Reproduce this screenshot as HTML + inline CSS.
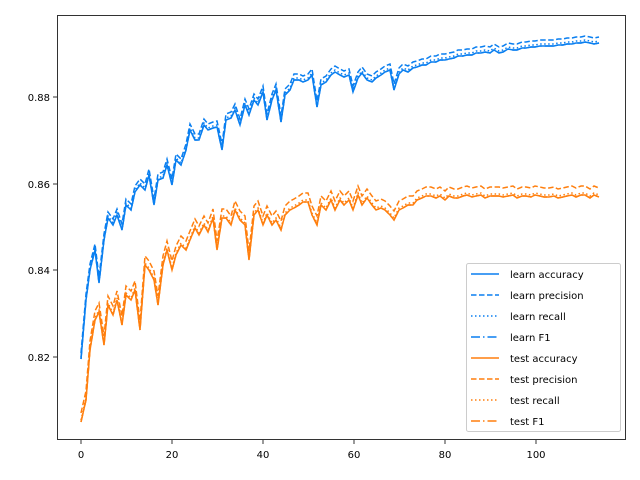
<!DOCTYPE html>
<html><head><style>body{margin:0;background:#fff}svg{display:block;font-family:"DejaVu Sans","Liberation Sans",sans-serif}</style></head><body>
<svg width="640" height="480" viewBox="0 0 640 480">
<defs>
<clipPath id="c"><rect x="57" y="15" width="569" height="425"/></clipPath>
<polyline id="b" fill="none" stroke-width="1.5" points="81,359 86,300 90,270 95,250 99,283 104,240 108,218 113,225 117,215 122,230 126,205 131,210 135,192 140,185 145,190 149,175 154,205 158,180 163,178 167,165 172,185 176,160 181,165 186,150 190,130 195,140 199,140 204,125 208,130 213,128 217,127 222,150 226,120 231,118 235,110 240,125 245,105 249,115 254,100 258,105 263,92 267,120 272,100 276,90 281,122 285,95 290,90 294,80 299,80 303,82 308,80 312,75 317,107 321,85 326,82 331,75 335,72 340,75 344,77 349,75 353,92 358,78 362,73 367,80 372,82 376,78 381,75 385,72 390,70 394,90 399,74 403,70 408,72 413,68 417,67 422,65 426,65 431,62 436,62 440,60 445,60 449,59 454,58 458,56 463,56 467,55 472,55 476,53 481,53 485,52 490,53 494,50 499,53 503,52 508,49 513,50 517,50 522,48 526,48 531,47 535,47 540,46 544,46 549,46 554,46 558,45 563,45 567,44 572,44 576,43 581,43 585,42 590,43 594,44 599,43"/>
<polyline id="o" fill="none" stroke-width="1.5" points="81,422 86,400 90,350 95,320 99,312 104,345 108,305 113,315 117,300 122,325 126,295 131,300 135,290 140,330 145,265 149,270 154,280 158,305 163,265 167,250 172,270 176,255 181,245 186,250 190,240 195,228 199,235 204,225 208,232 213,218 217,250 222,218 226,218 231,225 235,210 240,220 245,225 249,260 254,215 258,210 263,225 267,215 272,225 276,220 281,230 285,215 290,210 294,208 299,205 303,202 308,202 312,215 317,225 321,205 326,210 331,200 335,210 340,200 344,205 349,200 353,210 358,195 362,205 367,198 372,205 376,210 381,208 385,210 390,215 394,220 399,210 403,208 408,205 413,205 417,200 422,198 426,196 431,196 436,198 440,196 445,200 449,196 454,198 458,198 463,196 467,195 472,197 476,196 481,195 485,198 490,196 494,196 499,196 503,197 508,196 513,195 517,198 522,196 526,196 531,197 535,195 540,196 544,197 549,197 554,196 558,198 563,197 567,196 572,195 576,197 581,195 585,195 590,198 594,195 599,197"/>
</defs>
<g clip-path="url(#c)">
<use href="#b" stroke="#1f77b4" style="stroke:#0a7ff0" stroke-dasharray="1.5,2.5" transform="translate(0,-2)"/>
<use href="#b" style="stroke:#0a7ff0" stroke-dasharray="9,3,1.5,3"/>
<use href="#b" style="stroke:#0a7ff0" stroke-dasharray="5.5,2.5" transform="translate(0,-6)"/>
<use href="#b" style="stroke:#0a7ff0"/>
<use href="#o" style="stroke:#ff7f0e" stroke-dasharray="1.5,2.5" transform="translate(0,-2)"/>
<use href="#o" style="stroke:#ff7f0e" stroke-dasharray="9,3,1.5,3"/>
<use href="#o" style="stroke:#ff7f0e" stroke-dasharray="5.5,2.5" transform="translate(0,-9)"/>
<use href="#o" style="stroke:#ff7f0e"/>
</g>
<rect x="57.5" y="15.5" width="568" height="424" fill="none" stroke="#000" stroke-width="0.8"/>
<g stroke="#000" stroke-width="0.8">
<line x1="81" y1="440" x2="81" y2="444"/><line x1="172" y1="440" x2="172" y2="444"/><line x1="263" y1="440" x2="263" y2="444"/><line x1="354" y1="440" x2="354" y2="444"/><line x1="445" y1="440" x2="445" y2="444"/><line x1="536" y1="440" x2="536" y2="444"/>
<line x1="53" y1="97" x2="57" y2="97"/><line x1="53" y1="184" x2="57" y2="184"/><line x1="53" y1="270" x2="57" y2="270"/><line x1="53" y1="357" x2="57" y2="357"/>
</g>
<g font-size="10" fill="#000" text-anchor="middle">
<text x="81" y="458">0</text><text x="172" y="458">20</text><text x="263" y="458">40</text><text x="354" y="458">60</text><text x="445" y="458">80</text><text x="536" y="458">100</text>
</g>
<g font-size="10" fill="#000" text-anchor="end">
<text x="50" y="101">0.88</text><text x="50" y="188">0.86</text><text x="50" y="274">0.84</text><text x="50" y="361">0.82</text>
</g>
<rect x="466.5" y="263.5" width="154" height="168" rx="2" fill="#fff" fill-opacity="0.8" stroke="#ccc"/>
<g stroke-width="1.5" fill="none">
<line x1="471" x2="499" y1="274" y2="274" stroke="#0a7ff0"/>
<line x1="471" x2="499" y1="295" y2="295" stroke="#0a7ff0" stroke-dasharray="5.5,2.5"/>
<line x1="471" x2="499" y1="316" y2="316" stroke="#0a7ff0" stroke-dasharray="1.5,2.5"/>
<line x1="471" x2="499" y1="337" y2="337" stroke="#0a7ff0" stroke-dasharray="9,3,1.5,3"/>
<line x1="471" x2="499" y1="358" y2="358" stroke="#ff7f0e"/>
<line x1="471" x2="499" y1="379" y2="379" stroke="#ff7f0e" stroke-dasharray="5.5,2.5"/>
<line x1="471" x2="499" y1="400" y2="400" stroke="#ff7f0e" stroke-dasharray="1.5,2.5"/>
<line x1="471" x2="499" y1="421" y2="421" stroke="#ff7f0e" stroke-dasharray="9,3,1.5,3"/>
</g>
<g font-size="10" fill="#000">
<text x="510" y="278">learn accuracy</text><text x="510" y="299">learn precision</text><text x="510" y="320">learn recall</text><text x="510" y="341">learn F1</text>
<text x="510" y="362">test accuracy</text><text x="510" y="383">test precision</text><text x="510" y="404">test recall</text><text x="510" y="425">test F1</text>
</g>
</svg>
</body></html>
